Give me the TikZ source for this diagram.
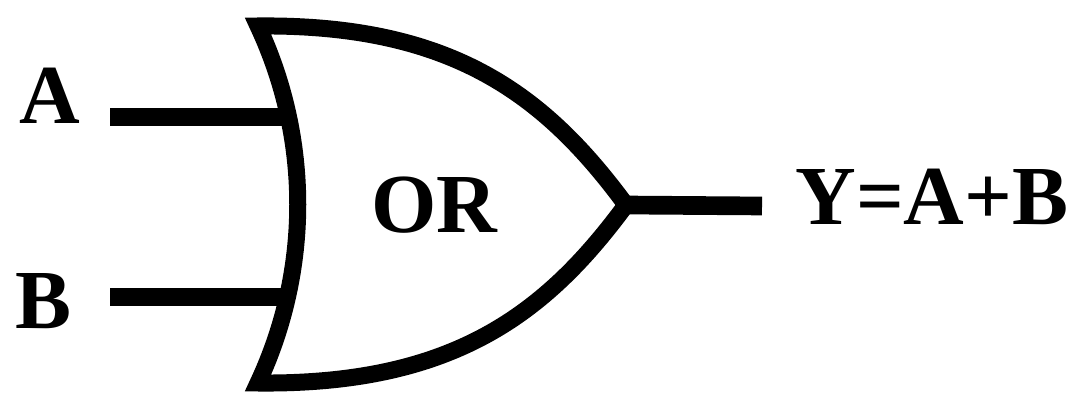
\documentclass[tikz,border=0pt]{standalone}
\usepackage{fontspec}
\setmainfont{Liberation Serif}
\begin{document}
\begin{tikzpicture}[x=0.75pt,y=-0.75pt,
  gate/.style={line width=12.75pt,line join=miter,miter limit=10},
  wire/.style={line width=14pt,line cap=butt},
  lbl/.style={inner sep=0pt,anchor=center,font=\fontsize{63}{70}\selectfont\bfseries}]
\useasboundingbox[fill=white] (0,0) rectangle (1078,398);
% gate corner points
\coordinate (tl) at (258,26);
\coordinate (bl) at (258,383);
\coordinate (tip) at (626,205);
\draw[gate] (tl) .. controls (452,24) and (545,95) .. (tip)
            .. controls (545,315) and (452,385) .. (bl)
            .. controls (311,270) and (311,139) .. (tl) -- cycle;
% wires
\coordinate (ain) at (110,117);
\coordinate (aend) at (286,117);
\coordinate (bin) at (110,297);
\coordinate (bend) at (286,297);
\coordinate (yout) at (762,206);
\draw[wire] (ain) -- (aend);
\draw[wire] (bin) -- (bend);
\draw[wire] (tip) -- (yout);
% labels
\node[lbl] (la) at (50,96) {A};
\node[lbl] (lb) at (44,301) {B};
\node[lbl] (lor) at (434,205) {OR};
\node[lbl] (ly) at (932,197) {Y=A+B};
\end{tikzpicture}
\end{document}
